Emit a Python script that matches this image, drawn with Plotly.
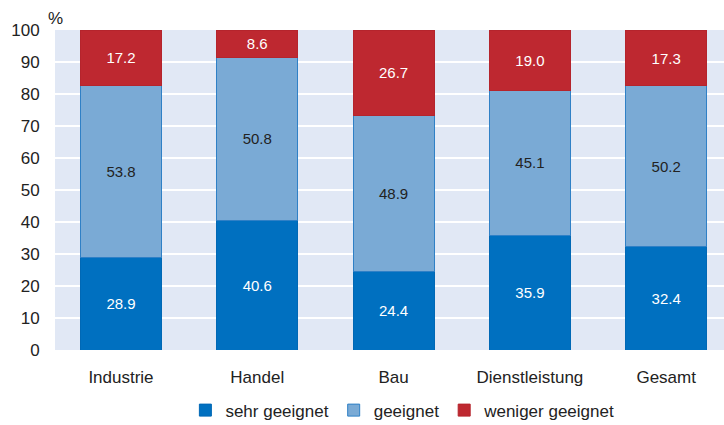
import plotly.graph_objects as go

categories = ["Industrie", "Handel", "Bau", "Dienstleistung", "Gesamt"]
sehr_geeignet = [28.9, 40.6, 24.4, 35.9, 32.4]
geeignet = [53.8, 50.8, 48.9, 45.1, 50.2]
weniger_geeignet = [17.2, 8.6, 26.7, 19.0, 17.3]
y_ticks = [0, 10, 20, 30, 40, 50, 60, 70, 80, 90, 100]

series = [
    ("sehr geeignet", sehr_geeignet, "#0070C0", "#0068B5", "white"),
    ("geeignet", geeignet, "#7AAAD5", "#2F80C6", "#222222"),
    ("weniger geeignet", weniger_geeignet, "#BE2830", "#B5242C", "white"),
]

FONT = "Liberation Sans, Arial, sans-serif"

fig = go.Figure()
for name, vals, color, line, tcol in series:
    fig.add_trace(go.Bar(
        name=name, x=categories, y=vals,
        marker=dict(color=color, line=dict(color=line, width=1)),
        text=[f"{v:.1f}" for v in vals], textposition="inside",
        insidetextanchor="middle", textangle=0,
        textfont=dict(color=tcol, size=15, family=FONT),
    ))

# Extra height at the bottom leaves room for the legend (overflow is hidden).
fig.update_layout(
    barmode="stack", bargap=0.406,
    width=724, height=470,
    margin=dict(l=55, r=0, t=30, b=120),
    paper_bgcolor="white", plot_bgcolor="#E1E8F5",
    font=dict(family=FONT, size=17, color="#222222"),
    showlegend=True,
    legend=dict(orientation="h", x=0.52, xanchor="center", y=-0.133, yanchor="top",
                font=dict(size=17), itemwidth=30, traceorder="normal"),
    uniformtext=dict(mode=False),
)
fig.update_xaxes(range=[-0.484, 4.424], showgrid=False, ticks="outside", ticklen=12,
                 tickcolor="rgba(0,0,0,0)", tickfont=dict(size=17),
                 showline=False, zeroline=False, automargin=False)
fig.update_yaxes(range=[0, 100], tickvals=y_ticks, showgrid=True, gridcolor="white", gridwidth=2,
                 zeroline=False, tickfont=dict(size=17), ticks="outside", ticklen=11,
                 tickcolor="rgba(0,0,0,0)", showline=False, automargin=False)
fig.add_annotation(text="%", xref="paper", yref="paper", x=0.0, y=1.0, xanchor="left", yanchor="bottom",
                   xshift=-9, yshift=0, showarrow=False, font=dict(size=17, color="#222222"))

fig.write_html(
    "out.html",
    config={"displayModeBar": False},
    post_script="document.body.style.margin='0';document.body.style.overflow='hidden';"
                "document.documentElement.style.overflow='hidden';",
)
